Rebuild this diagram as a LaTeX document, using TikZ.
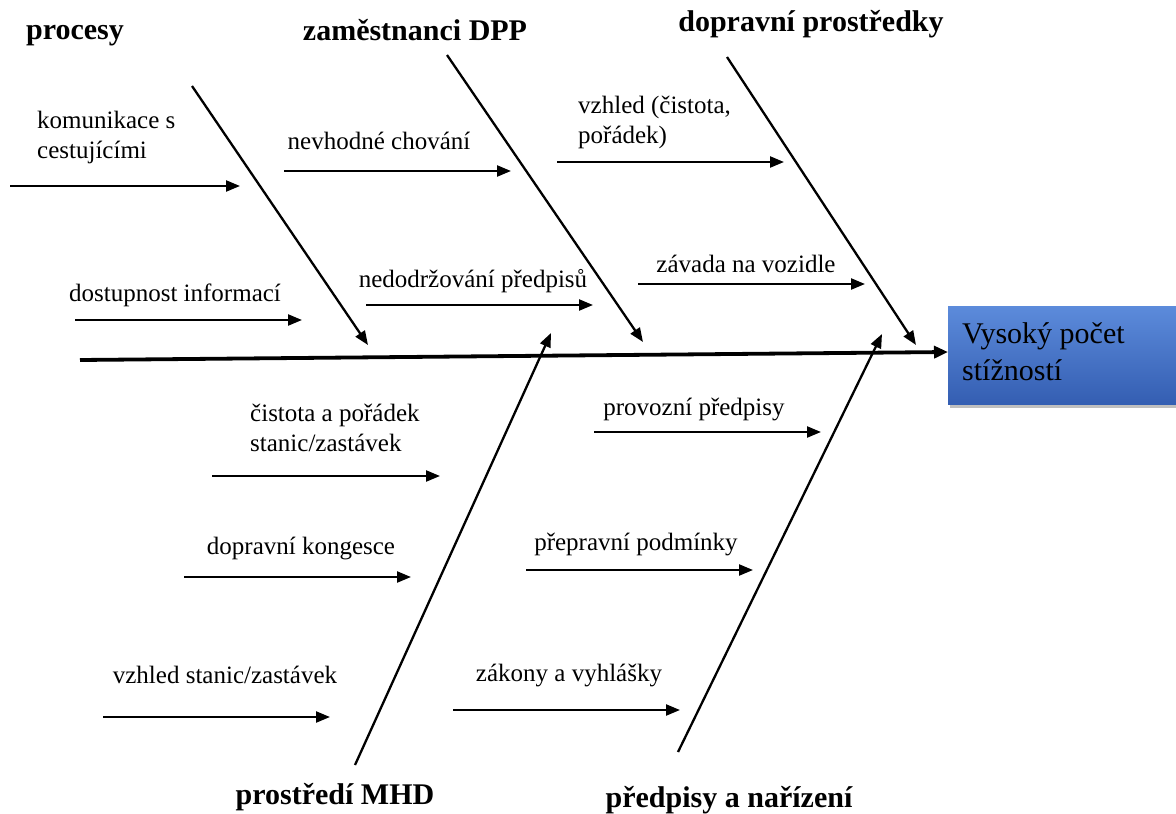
\documentclass[tikz,border=0pt]{standalone}
\usepackage{fontspec}
\setmainfont{Liberation Serif}
\usetikzlibrary{arrows.meta,shadows}
\begin{document}
\begin{tikzpicture}[x=1pt,y=-1pt,
  lbl/.style={font=\fontsize{25}{30}\selectfont, inner sep=0pt},
  ttl/.style={font=\fontsize{30}{34}\selectfont\bfseries, inner sep=0pt},
  sub/.style={line width=2.3pt,-{Triangle[length=14pt,width=11pt]}},
  bone/.style={line width=2.3pt,-{Triangle[length=14pt,width=11pt]}},
  spine/.style={line width=3.8pt,-{Triangle[length=14pt,width=12pt]}},
  effect/.style={draw=none,
    minimum width=228pt, minimum height=98pt, anchor=north west, inner sep=0pt,
    drop shadow={shadow xshift=2pt, shadow yshift=-4pt, opacity=0.5}}
]
\useasboundingbox (0,0) rectangle (1176,814);
% effect box
\node[effect, top color={rgb,255:red,92;green,139;blue,219}, bottom color={rgb,255:red,52;green,94;blue,178}] (eff) at (948,306) {};
\node[font=\fontsize{30}{37}\selectfont, align=left, anchor=west, inner sep=0pt] (efft) at (962,352) {Vysoký počet\\stížností};
% spine
\coordinate (sp0) at (80,360);
\draw[spine] (sp0) -- (eff.west |- 0,352);
% bones top
\coordinate (b1a) at (192,86);  \coordinate (b1b) at (368,345);
\coordinate (b2a) at (447,55);  \coordinate (b2b) at (643,342);
\coordinate (b3a) at (727,57);  \coordinate (b3b) at (916,345);
\draw[bone] (b1a) -- (b1b);
\draw[bone] (b2a) -- (b2b);
\draw[bone] (b3a) -- (b3b);
% bones bottom
\coordinate (b4a) at (355,765); \coordinate (b4b) at (551,333);
\coordinate (b5a) at (678,752); \coordinate (b5b) at (882,334);
\draw[bone] (b4a) -- (b4b);
\draw[bone] (b5a) -- (b5b);
% titles
\node[ttl] (t1) at (75,36) {procesy};
\node[ttl] (t2) at (415,30) {zaměstnanci DPP};
\node[ttl] (t3) at (811,24) {dopravní prostředky};
\node[ttl] (t4) at (335,797) {prostředí MHD};
\node[ttl] (t5) at (729,800) {předpisy a nařízení};
% sub causes
\coordinate (s1a) at (10,186);  \coordinate (s1b) at (240,186);
\node[lbl, align=left, anchor=west] (l1) at (37,137) {komunikace s\\cestujícími};
\draw[sub] (s1a) -- (s1b);
\coordinate (s2a) at (75,320);  \coordinate (s2b) at (302,320);
\node[lbl] (l2) at (175,295) {dostupnost informací};
\draw[sub] (s2a) -- (s2b);
\coordinate (s3a) at (284,171); \coordinate (s3b) at (511,171);
\node[lbl] (l3) at (379,141) {nevhodné chování};
\draw[sub] (s3a) -- (s3b);
\coordinate (s4a) at (366,305); \coordinate (s4b) at (593,305);
\node[lbl] (l4) at (473,281) {nedodržování předpisů};
\draw[sub] (s4a) -- (s4b);
\coordinate (s5a) at (557,162); \coordinate (s5b) at (784,162);
\node[lbl, align=left, anchor=west] (l5) at (578,122) {vzhled (čistota,\\pořádek)};
\draw[sub] (s5a) -- (s5b);
\coordinate (s6a) at (638,284); \coordinate (s6b) at (865,284);
\node[lbl] (l6) at (746,264) {závada na vozidle};
\draw[sub] (s6a) -- (s6b);
\coordinate (s7a) at (212,476); \coordinate (s7b) at (440,476);
\node[lbl, align=left, anchor=west] (l7) at (250,428) {čistota a pořádek\\stanic/zastávek};
\draw[sub] (s7a) -- (s7b);
\coordinate (s8a) at (184,577); \coordinate (s8b) at (411,577);
\node[lbl] (l8) at (301,548) {dopravní kongesce};
\draw[sub] (s8a) -- (s8b);
\coordinate (s9a) at (103,717); \coordinate (s9b) at (330,717);
\node[lbl] (l9) at (225,675) {vzhled stanic/zastávek};
\draw[sub] (s9a) -- (s9b);
\coordinate (s10a) at (594,432); \coordinate (s10b) at (821,432);
\node[lbl] (l10) at (694,409) {provozní předpisy};
\draw[sub] (s10a) -- (s10b);
\coordinate (s11a) at (526,570); \coordinate (s11b) at (753,570);
\node[lbl] (l11) at (636,544) {přepravní podmínky};
\draw[sub] (s11a) -- (s11b);
\coordinate (s12a) at (453,710); \coordinate (s12b) at (680,710);
\node[lbl] (l12) at (569,675) {zákony a vyhlášky};
\draw[sub] (s12a) -- (s12b);
\end{tikzpicture}
\end{document}
